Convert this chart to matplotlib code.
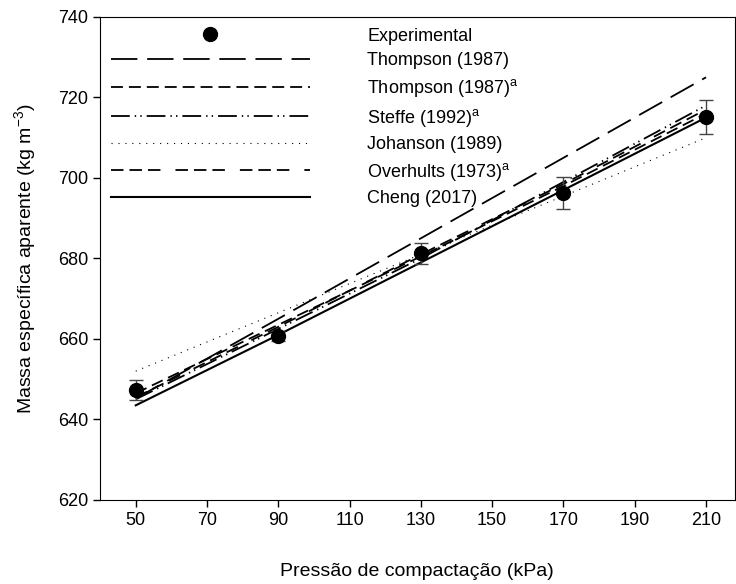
import matplotlib
matplotlib.use("Agg")
import matplotlib.pyplot as plt

plt.rcParams['font.family'] = ['Liberation Sans', 'DejaVu Sans']
plt.rcParams['mathtext.default'] = 'regular'
plt.rcParams['lines.scale_dashes'] = False

# data
pressure = [50, 90, 130, 170, 210]
experimental = [647.3, 660.8, 681.3, 696.3, 715.2]
exp_err = [2.4, 1.2, 2.6, 4.0, 4.2]

thompson = [645.2, 665.0, 685.0, 705.0, 725.0]
thompson_a = [646.5, 663.5, 680.5, 698.0, 716.0]
steffe = [645.0, 662.5, 680.0, 699.0, 718.0]
johanson = [652.0, 666.5, 681.0, 695.5, 710.0]
overhults = [645.5, 663.0, 681.0, 698.5, 717.0]
cheng = [643.5, 661.0, 679.0, 697.0, 715.0]

fig = plt.figure(figsize=(7.36, 5.84), dpi=100)
ax = fig.add_axes([0.136, 0.144, 0.862, 0.827])

# error bars drawn apart so the legend only shows the marker
ax.errorbar(pressure, experimental, yerr=exp_err, fmt='none',
            ecolor='#444444', elinewidth=1.0, capsize=5, capthick=1.0,
            zorder=4)
ax.plot(pressure, experimental, 'o', color='black', markersize=10,
        label='Experimental', zorder=5)

ax.plot(pressure, thompson, color='black', lw=1.3, dashes=(19, 7),
        label='Thompson (1987)')
ax.plot(pressure, thompson_a, color='black', lw=1.3, dashes=(8.6, 4.3),
        label='Thompson (1987)$^a$')
ax.plot(pressure, steffe, color='black', lw=1.3,
        dashes=(13.5, 3.6, 1, 3, 1, 3.6), label='Steffe (1992)$^a$')
ax.plot(pressure, johanson, color='black', lw=0.8, dashes=(0.8, 4.2),
        label='Johanson (1989)')
ax.plot(pressure, overhults, color='black', lw=1.3,
        dashes=(9, 4.3, 9, 4.3, 9, 10.8), label='Overhults (1973)$^a$')
ax.plot(pressure, cheng, color='black', lw=1.5, label='Cheng (2017)')

ax.set_xlim(40, 218)
ax.set_ylim(620, 740)
ax.set_xticks(range(50, 211, 20))
ax.set_yticks(range(620, 741, 20))
ax.tick_params(direction='out', length=5, width=1, labelsize=13,
               top=False, right=False)

ax.set_xlabel('Pressão de compactação (kPa)', fontsize=14, labelpad=25)
ax.set_ylabel('Massa específica aparente (kg m$^{-3}$)', fontsize=14,
              labelpad=14)

ax.legend(loc='upper left', bbox_to_anchor=(0.0, 1.0), frameon=False,
          fontsize=13, numpoints=1, handlelength=11, handletextpad=3.2,
          labelspacing=0.42, borderaxespad=0.3, borderpad=0.3)

fig.savefig('out.png', dpi=100)
